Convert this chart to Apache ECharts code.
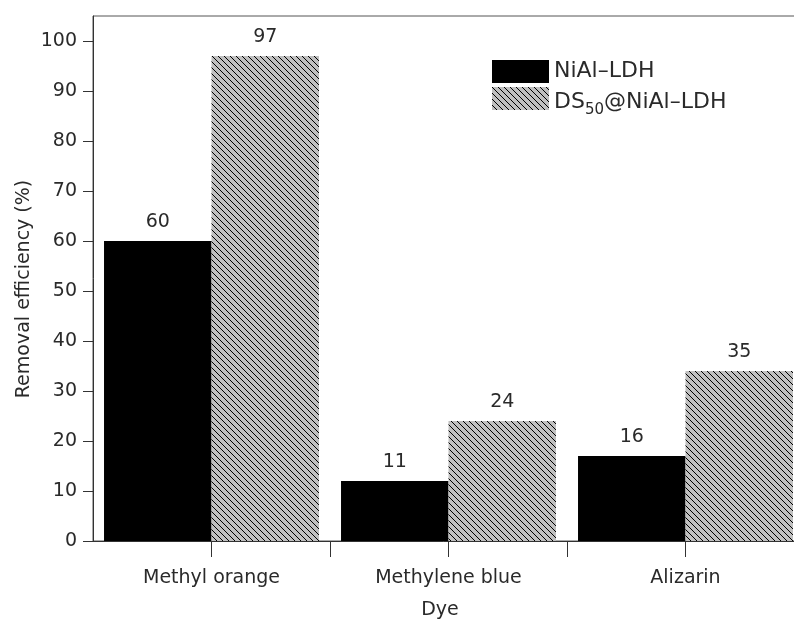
<!DOCTYPE html>
<html>
<head>
<meta charset="utf-8">
<script src="https://cdn.jsdelivr.net/npm/echarts@6/dist/echarts.min.js"></script>
<style>html,body{margin:0;padding:0;background:#fff}#c{width:794px;height:623px}</style>
</head>
<body>
<div id="c"></div>
<script>
const categories = ['Methyl orange', 'Methylene blue', 'Alizarin'];
const seriesNames = ['NiAl–LDH', 'DS50@NiAl–LDH'];
const niAlValues = [60, 12, 17];
const dsValues = [97, 24, 34];
const niAlLabels = ['60', '11', '16'];
const dsLabels = ['97', '24', '35'];
const yTicks = [0, 10, 20, 30, 40, 50, 60, 70, 80, 90, 100];

function makeHatch() {
  const s = 6;
  const cv = document.createElement('canvas');
  cv.width = s; cv.height = s;
  const g = cv.getContext('2d');
  g.fillStyle = '#c0c0c0';
  g.fillRect(0, 0, s, s);
  g.strokeStyle = '#000';
  g.lineWidth = 1;
  g.beginPath();
  g.moveTo(-1, -1); g.lineTo(s + 1, s + 1);
  g.moveTo(-1, s - 1); g.lineTo(1, s + 1);
  g.moveTo(s - 1, -1); g.lineTo(s + 1, 1);
  g.stroke();
  return cv;
}
const hatch = { image: makeHatch(), repeat: 'repeat' };

const FONT = 'DejaVu Sans, Liberation Sans, sans-serif';
const FS = 19;
const LFS = 22;
const TXT = '#2a2a2a';
const AX = '#333';

const chart = echarts.init(document.getElementById('c'), null, { renderer: 'canvas' });
chart.setOption({
  animation: false,
  backgroundColor: '#fff',
  textStyle: { fontFamily: FONT },
  grid: { left: 93, top: 16, width: 711, height: 525, show: true, borderColor: '#555', borderWidth: 1, containLabel: false, outerBoundsMode: 'none' },
  legend: {
    left: 487, top: 55, orient: 'vertical', itemWidth: 57, itemHeight: 23, itemGap: 4, icon: 'rect',
    data: seriesNames,
    formatter: function (n) { return n === seriesNames[1] ? '{m|DS}{sub|50}{m|@NiAl–LDH}' : n; },
    textStyle: {
      fontSize: LFS, color: TXT, fontFamily: FONT, lineHeight: 23,
      rich: {
        m: { fontSize: LFS, lineHeight: 23, verticalAlign: 'top', padding: [4, 0, 5, 0], color: TXT, fontFamily: FONT },
        sub: { fontSize: 15, lineHeight: 15, verticalAlign: 'top', padding: [16, 0, 1, 0], color: TXT, fontFamily: FONT }
      }
    }
  },
  xAxis: [
    {
      type: 'category', data: categories,
      axisLine: { lineStyle: { color: AX, width: 1 } },
      axisTick: { show: true, length: 16, alignWithLabel: true, lineStyle: { color: AX } },
      axisLabel: { fontSize: FS, color: TXT, margin: 28, fontFamily: FONT },
      splitLine: { show: false }
    },
    {
      type: 'category', data: categories, position: 'bottom',
      axisLine: { show: false },
      axisTick: { show: true, length: 16, interval: function (i) { return i > 0; }, lineStyle: { color: AX } },
      axisLabel: { show: false },
      splitLine: { show: false }
    }
  ],
  yAxis: {
    type: 'value', min: 0, max: 105,
    axisLine: { show: true, lineStyle: { color: AX, width: 1 } },
    axisTick: { show: true, length: 10, customValues: yTicks, lineStyle: { color: AX } },
    axisLabel: { fontSize: FS, color: TXT, margin: 16, fontFamily: FONT, customValues: yTicks },
    splitLine: { show: false }
  },
  graphic: [
    { type: 'text', x: 24, y: 289, rotation: Math.PI / 2, style: { text: 'Removal efficiency (%)', fontSize: FS, fill: TXT, fontFamily: FONT, align: 'center', verticalAlign: 'middle' } },
    { type: 'text', x: 440, y: 610, style: { text: 'Dye', fontSize: FS, fill: TXT, fontFamily: FONT, align: 'center', verticalAlign: 'middle' } }
  ],
  series: [
    {
      name: seriesNames[0], type: 'bar', data: niAlValues, barGap: '0%', barCategoryGap: '9.3%',
      itemStyle: { color: '#000' },
      label: { show: true, position: 'top', distance: 9, fontSize: FS, color: TXT, fontFamily: FONT,
        formatter: function (p) { return niAlLabels[p.dataIndex]; } }
    },
    {
      name: seriesNames[1], type: 'bar', data: dsValues, barGap: '0%', barCategoryGap: '9.3%',
      itemStyle: { color: hatch },
      label: { show: true, position: 'top', distance: 9, fontSize: FS, color: TXT, fontFamily: FONT,
        formatter: function (p) { return dsLabels[p.dataIndex]; } }
    }
  ]
});
</script>
</body>
</html>
